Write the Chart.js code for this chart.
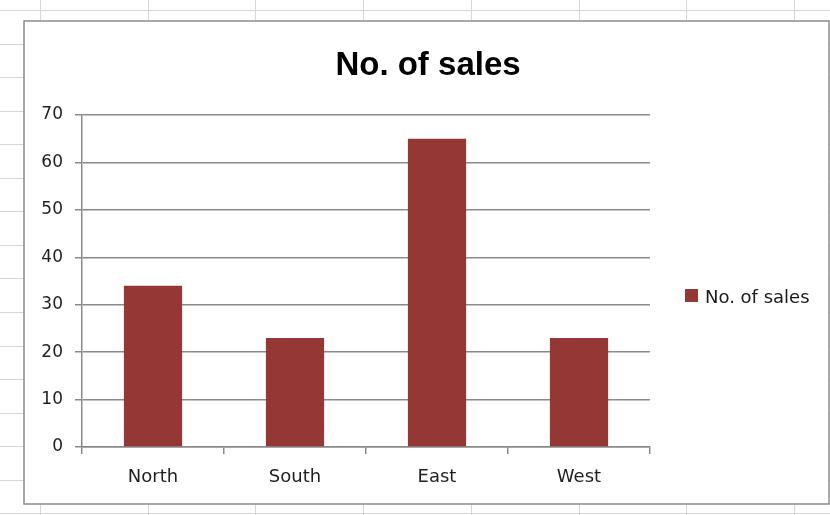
<!DOCTYPE html>
<html>
<head>
<meta charset="utf-8">
<script src="https://cdn.jsdelivr.net/npm/chart.js@4/dist/chart.umd.min.js"></script>
<style>
  html, body { margin: 0; padding: 0; background: #fff; }
  #wrap { width: 830px; height: 515px; }
</style>
</head>
<body>
<div id="wrap"><canvas id="salesChart" width="830" height="515"></canvas></div>
<script>
const chartTitle = 'No. of sales';
const seriesName = 'No. of sales';
const categories = ['North', 'South', 'East', 'West'];
const salesValues = [34, 23, 65, 23];
const yTicks = [0, 10, 20, 30, 40, 50, 60, 70];

const barColor = '#953735';
const axisGray = '#8a8a8a';
const labelFont = 'DejaVu Sans';

// spreadsheet cells behind the chart, the chart frame, title and legend
const sheetBackground = {
    id: 'sheetBackground',
    beforeDraw(chart) {
        const ctx = chart.ctx;
        ctx.save();
        ctx.fillStyle = '#fff';
        ctx.fillRect(0, 0, chart.width, chart.height);
        ctx.strokeStyle = '#d6d6d6';
        ctx.lineWidth = 1;
        // row lines
        for (let y = 10; y < chart.height; y += 33.55) {
            ctx.beginPath();
            ctx.moveTo(0, Math.round(y) + 0.5);
            ctx.lineTo(chart.width, Math.round(y) + 0.5);
            ctx.stroke();
        }
        // column lines
        for (let x = 40; x < chart.width; x += 107.7) {
            ctx.beginPath();
            ctx.moveTo(Math.round(x) + 0.5, 0);
            ctx.lineTo(Math.round(x) + 0.5, chart.height);
            ctx.stroke();
        }
        // chart object frame
        ctx.fillStyle = '#fff';
        ctx.fillRect(24, 21, 805, 483);
        ctx.strokeStyle = '#8c8c8c';
        ctx.lineWidth = 1.5;
        ctx.strokeRect(24, 21, 805, 483);
        ctx.restore();
    },
    afterDraw(chart) {
        const ctx = chart.ctx;
        const ds = chart.data.datasets[0];
        ctx.save();
        // title
        ctx.fillStyle = '#000';
        ctx.font = 'bold 33px "Liberation Sans"';
        ctx.textAlign = 'center';
        ctx.textBaseline = 'alphabetic';
        ctx.fillText(chartTitle, 428, 75);
        // legend
        ctx.fillStyle = ds.backgroundColor;
        ctx.fillRect(685, 289, 13, 13);
        ctx.fillStyle = '#1a1a1a';
        ctx.font = '18px "' + labelFont + '"';
        ctx.textAlign = 'left';
        ctx.fillText(ds.label, 705, 303);
        ctx.restore();
    }
};

new Chart(document.getElementById('salesChart'), {
    type: 'bar',
    data: {
        labels: categories,
        datasets: [{
            label: seriesName,
            data: salesValues,
            backgroundColor: barColor,
            borderWidth: 0,
            categoryPercentage: 1,
            barPercentage: 0.41
        }]
    },
    options: {
        responsive: false,
        animation: false,
        devicePixelRatio: 1,
        layout: {
            padding: { left: 24, top: 115, right: 180, bottom: 11 }
        },
        plugins: {
            legend: { display: false },
            title: { display: false },
            tooltip: { enabled: false }
        },
        scales: {
            y: {
                min: 0,
                max: 70,
                afterBuildTicks(scale) {
                    scale.ticks = yTicks.map(v => ({ value: v }));
                },
                afterFit(scale) { scale.width = 58; },
                ticks: {
                    padding: 12,
                    color: '#1f1f1f',
                    font: { family: labelFont, size: 17 }
                },
                grid: {
                    color: axisGray,
                    lineWidth: 1.5,
                    tickLength: 7
                },
                border: { display: true, color: axisGray, width: 1.5 }
            },
            x: {
                afterFit(scale) { scale.height = 57; },
                ticks: {
                    padding: 13,
                    color: '#1f1f1f',
                    font: { family: labelFont, size: 18 }
                },
                grid: {
                    offset: true,
                    drawOnChartArea: false,
                    color: axisGray,
                    lineWidth: 1.5,
                    tickLength: 7
                },
                border: { display: true, color: axisGray, width: 1.5 }
            }
        }
    },
    plugins: [sheetBackground]
});
</script>
</body>
</html>
